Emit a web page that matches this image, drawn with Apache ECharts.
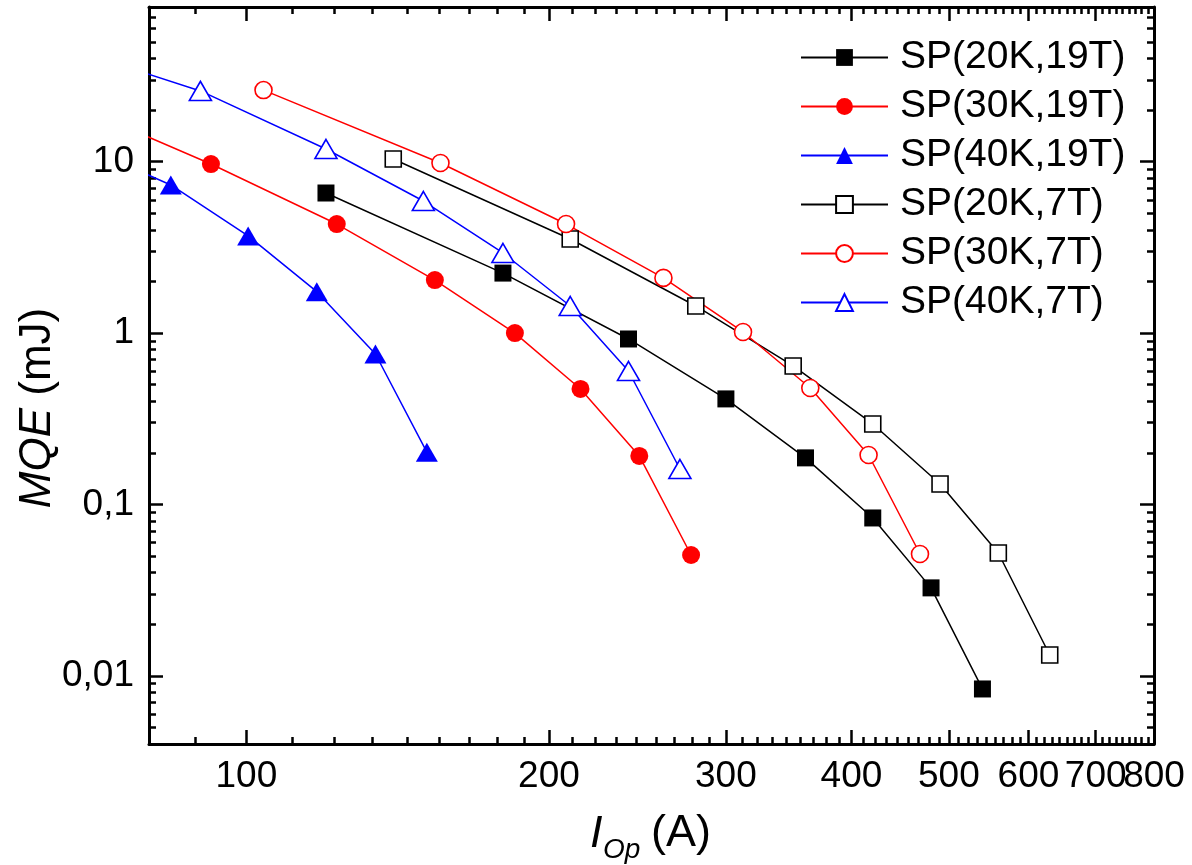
<!DOCTYPE html>
<html>
<head>
<meta charset="utf-8">
<script src="https://cdn.jsdelivr.net/npm/echarts@6/dist/echarts.min.js"></script>
<style>
html,body{margin:0;padding:0;background:#fff;}
#chart{width:1192px;height:865px;}
</style>
</head>
<body>
<div id="chart"></div>
<script>
// ---- data (I in A, MQE in mJ) ----
const seriesNames = ['SP(20K,19T)', 'SP(30K,19T)', 'SP(40K,19T)', 'SP(20K,7T)', 'SP(30K,7T)', 'SP(40K,7T)'];
const i20K19T = [120, 180, 240, 300, 360, 420, 480, 540];
const e20K19T = [6.57, 2.24, 0.924, 0.413, 0.187, 0.0834, 0.0326, 0.00838];
const i30K19T = [61.5, 92.2, 123, 154, 185, 215, 246, 277];
const e30K19T = [27, 9.70, 4.33, 2.04, 1.00, 0.472, 0.192, 0.0507];
const i40K19T = [67.3, 84.1, 100.4, 117.5, 134.4, 151.2];
const e40K19T = [13.1, 7.32, 3.69, 1.745, 0.755, 0.202];
const i20K7T = [140, 210, 280, 350, 420, 490, 560, 630];
const e20K7T = [10.38, 3.54, 1.44, 0.643, 0.295, 0.1317, 0.0521, 0.01323];
const i30K7T = [104, 156, 208, 260, 312, 364, 416, 468];
const e30K7T = [26.2, 9.83, 4.33, 2.10, 1.015, 0.478, 0.1944, 0.0514];
const i40K7T = [60, 90, 120, 150, 180, 210, 240, 270];
const e40K7T = [55.7, 25.9, 11.87, 5.90, 2.935, 1.44, 0.601, 0.161];

// ---- axes ----
const xRange = [80, 800];
const yRange = [0.004, 80];
const xMajorTicks = [100, 200, 300, 400, 500, 600, 700, 800];
const xLabelsA = [100, 300, 500, 700];   // labels split over two overlaid axes
const xLabelsB = [200, 400, 600, 800];   // so that touching labels are not dropped
const yMajorTicks = [0.01, 0.1, 1, 10];
const yTickLabels = ['0,01', '0,1', '1', '10'];

const xMinorTicks = [];
for (let h = 0; h < 800; h += 100) {
  for (let k = 1; k <= 8; k++) {
    const v = h + k * 100 / 9;
    if (v > xRange[0] && v < xRange[1]) xMinorTicks.push(v);
  }
}
const yMinorTicks = [];
for (let e = -3; e <= 1; e++) {
  for (let d = 2; d <= 9; d++) {
    const v = d * Math.pow(10, e);
    if (v >= yRange[0] * 0.999 && v <= yRange[1] * 1.001) yMinorTicks.push(v);
  }
}

const FONT = '"Liberation Sans", Arial, Helvetica, sans-serif';
const L = Math.log10;
const lx = xRange.map(L), ly = yRange.map(L);

function pairs(xs, ys) { return xs.map((x, i) => [x, ys[i]]); }

function tickAxis(dim, pos, vals, len, withLine, labelVals) {
  const isX = dim === 'x';
  const ext = isX ? lx : ly;
  const ax = {
    type: 'value', gridIndex: 0, position: pos, min: ext[0], max: ext[1],
    axisLine: { show: withLine, onZero: false, lineStyle: { color: '#000', width: 3 } },
    axisTick: { show: true, inside: true, length: len, customValues: vals.map(L),
      lineStyle: { color: '#000', width: 2.5 } },
    axisLabel: { show: false },
    splitLine: { show: false }, minorTick: { show: false }, splitArea: { show: false }
  };
  if (labelVals) {
    ax.axisLabel = {
      show: true, customValues: labelVals.map(L),
      fontSize: 37, fontFamily: FONT, color: '#000', margin: isX ? 14 : 15,
      showMinLabel: true, showMaxLabel: true, hideOverlap: false,
      formatter: function (v) {
        if (isX) return String(Math.round(Math.pow(10, v)));
        let best = 0;
        yMajorTicks.forEach((t, i) => { if (Math.abs(L(t) - v) < Math.abs(L(yMajorTicks[best]) - v)) best = i; });
        return yTickLabels[best];
      }
    };
  }
  return ax;
}

const xAxes = [
  { type: 'log', gridIndex: 0, min: xRange[0], max: xRange[1], logBase: 10, show: false, position: 'bottom' },
  tickAxis('x', 'bottom', xMajorTicks, 14, true, xLabelsA),
  tickAxis('x', 'bottom', xMinorTicks, 7, false, xLabelsB),
  tickAxis('x', 'top', xMajorTicks, 14, true, null),
  tickAxis('x', 'top', xMinorTicks, 7, false, null)
];
const yAxes = [
  { type: 'log', gridIndex: 0, min: yRange[0], max: yRange[1], logBase: 10, show: false, position: 'left' },
  tickAxis('y', 'left', yMajorTicks, 14, true, yMajorTicks),
  tickAxis('y', 'left', yMinorTicks, 7, false, null),
  tickAxis('y', 'right', yMajorTicks, 14, true, null),
  tickAxis('y', 'right', yMinorTicks, 7, false, null)
];

function mkSeries(name, xs, ys, color, symbol, filled, size) {
  return {
    name: name, type: 'line', xAxisIndex: 0, yAxisIndex: 0,
    data: pairs(xs, ys), clip: true, silent: true,
    symbol: symbol, symbolSize: size, showAllSymbol: true,
    lineStyle: { color: color, width: 1.5 },
    itemStyle: filled ? { color: color, borderWidth: 0 }
                      : { color: '#ffffff', borderColor: color, borderWidth: 1.6 },
    emphasis: { disabled: true }
  };
}

const chart = echarts.init(document.getElementById('chart'), null, { renderer: 'canvas' });
chart.setOption({
  animation: false,
  backgroundColor: '#ffffff',
  grid: { left: 149, right: 38, top: 7, bottom: 121, containLabel: false, outerBoundsMode: 'none', show: false },
  xAxis: xAxes,
  yAxis: yAxes,
  legend: {
    orient: 'vertical', left: 800, top: 38, padding: 0,
    itemWidth: 87, itemHeight: 21, itemGap: 10,
    textStyle: { fontSize: 39, fontFamily: FONT, color: '#000', lineHeight: 39, padding: [0, 0, 0, 7] },
    data: seriesNames
  },
  series: [
    mkSeries(seriesNames[0], i20K19T, e20K19T, '#000000', 'rect', true, 17),
    mkSeries(seriesNames[1], i30K19T, e30K19T, '#ff0000', 'circle', true, 18),
    mkSeries(seriesNames[2], i40K19T, e40K19T, '#0000ff', 'triangle', true, [22, 19]),
    mkSeries(seriesNames[3], i20K7T, e20K7T, '#000000', 'rect', false, 16),
    mkSeries(seriesNames[4], i30K7T, e30K7T, '#ff0000', 'circle', false, 17),
    mkSeries(seriesNames[5], i40K7T, e40K7T, '#0000ff', 'triangle', false, [22, 19])
  ],
  graphic: [
    { type: 'text', x: 38, y: 408, rotation: Math.PI / 2, silent: true,
      style: { text: '{i|MQE} (mJ)', fontSize: 44, fontFamily: FONT, fill: '#000', align: 'center', verticalAlign: 'middle',
        rich: { i: { fontSize: 44, fontFamily: FONT, fontStyle: 'italic', fill: '#000' } } } },
    { type: 'text', x: 590, y: 834, silent: true,
      style: { text: 'I', fontSize: 45, fontFamily: FONT, fontStyle: 'italic', fill: '#000', align: 'left', verticalAlign: 'middle' } },
    { type: 'text', x: 603, y: 850, silent: true,
      style: { text: 'Op', fontSize: 28, fontFamily: FONT, fontStyle: 'italic', fill: '#000', align: 'left', verticalAlign: 'middle' } },
    { type: 'text', x: 651, y: 834, silent: true,
      style: { text: '(A)', fontSize: 45, fontFamily: FONT, fill: '#000', align: 'left', verticalAlign: 'middle' } }
  ]
});
</script>
</body>
</html>
